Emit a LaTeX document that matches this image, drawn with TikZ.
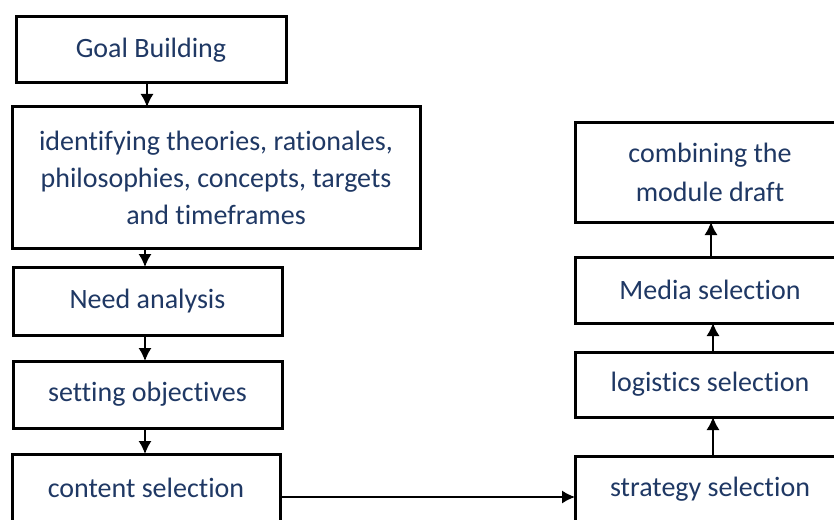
\documentclass[tikz,border=0pt]{standalone}
\usepackage{fontspec}
\setmainfont{Carlito}[Ligatures=NoCommon]
\usetikzlibrary{arrows.meta,calc}
\definecolor{txtblue}{HTML}{1F3864}
\begin{document}
\begin{tikzpicture}[x=0.5pt,y=-0.5pt,
  box/.style={draw=black,line width=1.5pt,fill=white,inner sep=0pt,outer sep=0pt,
    text=txtblue,font=\fontsize{14pt}{18.5pt}\selectfont,align=center},
  arr/.style={line width=0.7pt,-{Latex[length=6.5pt,width=6.5pt]}}]
\useasboundingbox (0,0) rectangle (834,519);
\node[box,minimum width=270*0.5pt,minimum height=66*0.5pt] (goal) at (151,50) {Goal Building};
\node[box,minimum width=408*0.5pt,minimum height=141*0.5pt] (ident) at (216,177.5) {identifying theories, rationales,\\philosophies, concepts, targets\\and timeframes};
\node[box,minimum width=269*0.5pt,minimum height=68*0.5pt] (need) at (147.5,301) {Need analysis};
\node[box,minimum width=269*0.5pt,minimum height=67*0.5pt] (setobj) at (147.5,394.5) {setting objectives};
\node[box,minimum width=268*0.5pt,minimum height=68*0.5pt] (content) at (146,488) {content selection};
\node[box,minimum width=270*0.5pt,minimum height=100*0.5pt] (combine) at (710,172) {combining the\\[1pt]module draft};
\node[box,minimum width=270*0.5pt,minimum height=66*0.5pt] (media) at (710,290) {Media selection};
\node[box,minimum width=270*0.5pt,minimum height=65*0.5pt] (logis) at (710,384.5) {logistics selection};
\node[box,minimum width=270*0.5pt,minimum height=66*0.5pt] (strat) at (710,489) {strategy selection};
\draw[arr] (goal.south -| 147,0) -- (ident.north -| 147,0);
\draw[arr] (ident.south -| 145,0) -- (need.north -| 145,0);
\draw[arr] (need.south -| 145,0) -- (setobj.north -| 145,0);
\draw[arr] (setobj.south -| 145,0) -- (content.north -| 145,0);
\draw[arr] (content.east |- 0,497) -- (strat.west |- 0,497);
\draw[arr] (strat.north -| 713,0) -- (logis.south -| 713,0);
\draw[arr] (logis.north -| 713,0) -- (media.south -| 713,0);
\draw[arr] (media.north -| 711,0) -- (combine.south -| 711,0);
\end{tikzpicture}
\end{document}
